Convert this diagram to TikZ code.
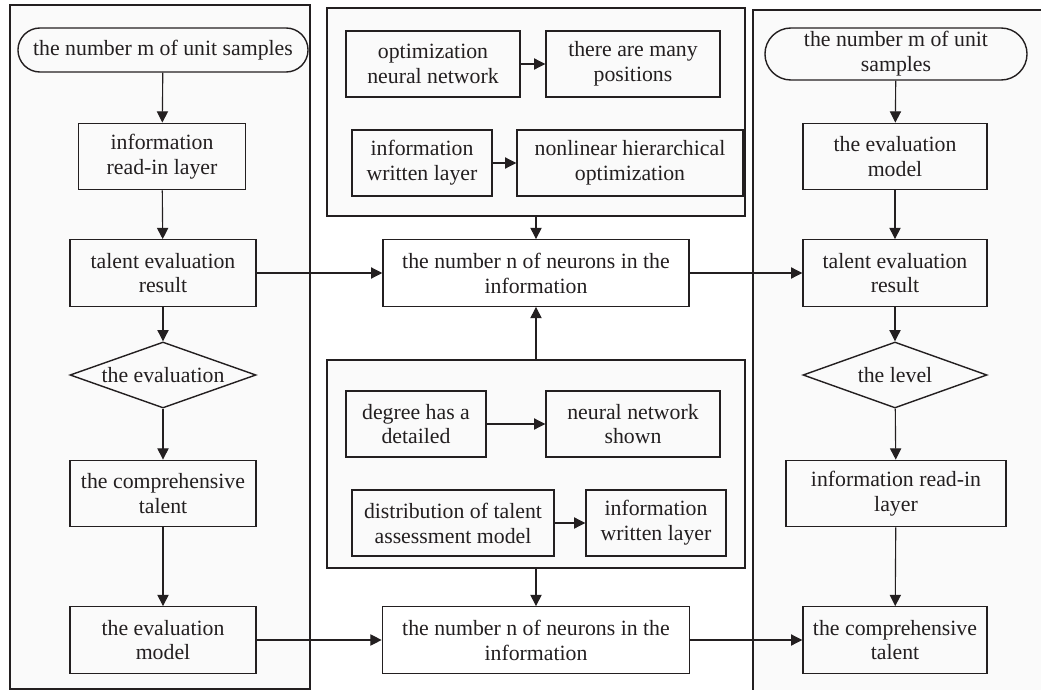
\documentclass[tikz,border=0pt]{standalone}
\usepackage{fontspec}
\setmainfont{Liberation Serif}
\usepackage{tikz}
\usetikzlibrary{
        shapes.geometric,
        positioning,
        arrows.meta
    }
\definecolor{inkgray}{HTML}{231F20}
\definecolor{panelgray}{HTML}{FAFAFA}

\begin{document}
\begin{tikzpicture}
[x=0.025cm, y=-0.025cm,
baseshape/.style={text centered, align=center, font=\fontsize{15.5}{17.7}\selectfont, draw=inkgray, line width=1pt, text=inkgray, inner sep=2pt},
process/.style={baseshape, rectangle, minimum width=4.65cm, minimum height=1.66cm},
inner/.style={baseshape, rectangle, minimum width=4.35cm, minimum height=1.65cm},
terminal/.style={baseshape, rectangle, rounded corners=0.55cm, minimum height=1.1cm},
decision/.style={baseshape, diamond, aspect=2.8, inner sep=0pt, minimum width=4.65cm, minimum height=1.65cm},
panel/.style={draw=inkgray, line width=1pt, fill=panelgray, minimum width=10.45cm, minimum height=5.2cm},
arrow/.style={line width=0.8pt, draw=inkgray, -{Triangle[length=8pt, width=8pt]}},
]
    \useasboundingbox (0,0) rectangle (1041,690);
    % panels
    \node (lpanel) [draw=inkgray, line width=1pt, fill=panelgray, minimum width=7.5cm, minimum height=17.1cm] at (160,347) {};
    \fill[panelgray] (753,10) rectangle (1041,690);
    \draw[inkgray, line width=1pt] (1041,10) -- (753,10) -- (753,690);
    \node (toppanel) [panel] at (536,112) {};
    \node (botpanel) [panel] at (536,464) {};

    % left column
    \node (lstart) [terminal, minimum width=7.25cm] at (163,50) {the number m of unit samples};
    \node (lread) [process, minimum width=4.175cm] at (162,156.5) {information\\ read-in layer};
    \node (lresult) [process] at (163,273) {talent evaluation\\ result};
    \node (ldecide) [decision] at (163,375) {the evaluation};
    \node (lcomp) [process] at (163,493.5) {the comprehensive\\ talent};
    \node (lmodel) [process] at (163,640) {the evaluation\\ model};

    % middle
    \node (optnet) [inner] at (433,64) {optimization\\ neural network};
    \node (positions) [inner] at (633,64) {there are many\\ positions};
    \node (writelayer) [inner, minimum width=3.5cm] at (422,163) {information\\ written layer};
    \node (nonlinear) [inner, minimum width=5.65cm] at (630,163) {nonlinear hierarchical\\ optimization};
    \node (numtop) [process, minimum width=7.65cm] at (536,273) {the number n of neurons in the\\ information};
    \node (degree) [inner, minimum width=3.5cm] at (416,424) {degree has a\\ detailed};
    \node (nnshown) [inner] at (633,424) {neural network\\ shown};
    \node (distrib) [inner, minimum width=5.05cm] at (453,523) {distribution of talent\\ assessment model};
    \node (infowrite) [inner, minimum width=3.5cm] at (656,523) {information\\ written layer};
    \node (numbot) [process, minimum width=7.68cm] at (536,640) {the number n of neurons in the\\ information};

    % right column
    \node (rstart) [terminal, minimum width=6.55cm, minimum height=1.3cm, rounded corners=0.65cm] at (896,54) {the number m of unit\\ samples};
    \node (rmodel) [process, minimum width=4.6cm] at (895,156.5) {the evaluation\\ model};
    \node (rresult) [process, minimum width=4.6cm] at (895,273) {talent evaluation\\ result};
    \node (rdecide) [decision, minimum width=4.6cm] at (895,375) {the level};
    \node (rread) [process, minimum width=5.5cm] at (896,493.5) {information read-in\\ layer};
    \node (rcomp) [process, minimum width=4.6cm] at (895,640) {the comprehensive\\ talent};

    \draw[arrow] (lstart) -- (lread);
    \draw[arrow] (lread) -- (lresult);
    \draw[arrow] (lresult) -- (ldecide);
    \draw[arrow] (ldecide) -- (lcomp);
    \draw[arrow] (lcomp) -- (lmodel);
    \draw[arrow] (lresult) -- (numtop);
    \draw[arrow] (lmodel) -- (numbot);

    \draw[arrow] (optnet) -- (positions);
    \draw[arrow] (writelayer) -- (nonlinear);
    \draw[arrow] (degree) -- (nnshown);
    \draw[arrow] (distrib) -- (infowrite);
    \draw[arrow] (toppanel) -- (numtop);
    \draw[arrow] (botpanel.north) -- (numtop);
    \draw[arrow] (botpanel.south) -- (numbot);

    \draw[arrow] (numtop) -- (rresult);
    \draw[arrow] (numbot) -- (rcomp);
    \draw[arrow] (rstart) -- (rmodel);
    \draw[arrow] (rmodel) -- (rresult);
    \draw[arrow] (rresult) -- (rdecide);
    \draw[arrow] (rdecide) -- (rread);
    \draw[arrow] (rread) -- (rcomp);
\end{tikzpicture}
\end{document}
